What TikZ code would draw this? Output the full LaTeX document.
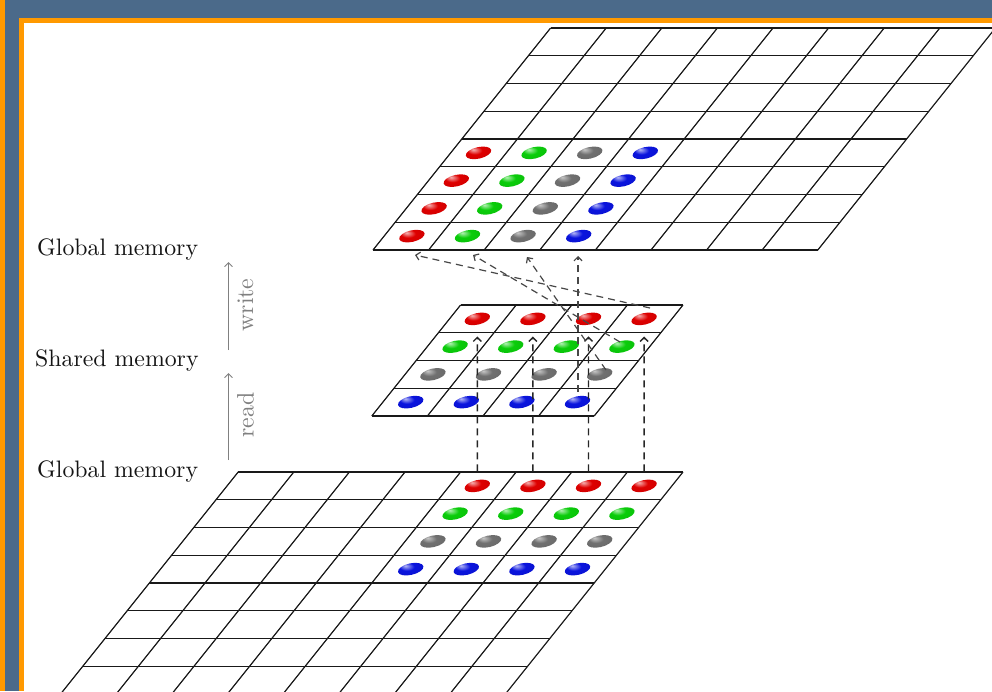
\documentclass[tikz,border=0pt]{standalone}
\usepackage{graphicx}
\usetikzlibrary{arrows.meta,shapes.geometric}

\definecolor{frameblue}{RGB}{75,106,138}
\definecolor{frameorange}{RGB}{255,153,0}
\definecolor{softgray}{RGB}{128,128,128}
\definecolor{dotred}{RGB}{222,0,0}
\definecolor{dotgreen}{RGB}{10,205,10}
\definecolor{dotgray}{RGB}{112,112,112}
\definecolor{dotblue}{RGB}{10,20,222}

% glossy fill of the data elements, highlight towards the upper left
\pgfdeclareradialshading{spotred}{\pgfpoint{-10bp}{12bp}}{color(0bp)=(dotred!30!white); color(14bp)=(dotred); color(36bp)=(dotred!92!black); color(50bp)=(dotred!55!black)}
\pgfdeclareradialshading{spotgreen}{\pgfpoint{-10bp}{12bp}}{color(0bp)=(dotgreen!30!white); color(14bp)=(dotgreen); color(36bp)=(dotgreen!92!black); color(50bp)=(dotgreen!55!black)}
\pgfdeclareradialshading{spotgray}{\pgfpoint{-10bp}{12bp}}{color(0bp)=(dotgray!40!white); color(14bp)=(dotgray); color(36bp)=(dotgray!92!black); color(50bp)=(dotgray!60!black)}
\pgfdeclareradialshading{spotblue}{\pgfpoint{-10bp}{12bp}}{color(0bp)=(dotblue!30!white); color(14bp)=(dotblue); color(36bp)=(dotblue!92!black); color(50bp)=(dotblue!55!black)}

% cell size of the memory grids and their slant
\newcommand\cellw{55.6}
\newcommand\cellh{27.75}

% \memgrid{x of top-left corner}{y of top-left corner}{columns}{rows}
\newcommand\memgrid[4]{%
  \foreach \j in {0,...,#4}{
    \draw[gridline] ({#1-0.8*\j*\cellh},{#2+\j*\cellh}) -- ++({#3*\cellw},0);
  }
  \foreach \i in {0,...,#3}{
    \draw[gridline] ({#1+\i*\cellw},#2) -- ++({-0.8*#4*\cellh},{#4*\cellh});
  }
}

% \memdot{name}{grid x}{grid y}{column}{row}{shading}
\newcommand\memdot[6]{%
  \node[ballspot, shading=#6] (#1)
    at ({#2+(#4-0.5)*\cellw-0.8*(#5-0.5)*\cellh},{#3+(#5-0.5)*\cellh}) {};
}

\begin{document}
\begin{tikzpicture}[x=1pt, y=-1pt,
  gridline/.style={line width=1.2pt, black!90},
  ballspot/.style={ellipse, shade, minimum width=26pt, minimum height=11.5pt,
    inner sep=0pt, rotate=13},
  flow/.style={line width=1.4pt, black!85, dash pattern=on 7pt off 5pt,
    -{Straight Barb[length=4pt,width=8pt]}},
  sidearrow/.style={line width=0.9pt, softgray,
    -{Straight Barb[length=4pt,width=8pt]}},
  lbl/.style={font=\normalsize, text=black!92, inner sep=0pt},
  sidetxt/.style={font=\normalsize, text=softgray, inner sep=0pt}]

\useasboundingbox (0,0) rectangle (992,691);
\fill[white] (0,0) rectangle (992,691);

\begin{scope}
  \clip (24,23) rectangle (992,691);

  % grids: output in global memory, shared tile, input in global memory
  \memgrid{550.6}{28}{8}{8}
  \memgrid{460.6}{305}{4}{4}
  \memgrid{238.2}{472}{8}{8}

  % output grid: colours run along the columns
  \foreach \c/\col in {1/spotred,2/spotgreen,3/spotgray,4/spotblue}{
    \foreach \r in {5,...,8}{
      \memdot{t-\r-\c}{550.6}{28}{\c}{\r}{\col}
    }
  }

  % shared tile and input grid: colours run along the rows
  \foreach \r/\col in {1/spotred,2/spotgreen,3/spotgray,4/spotblue}{
    \foreach \c in {1,...,4}{
      \memdot{m-\r-\c}{460.6}{305}{\c}{\r}{\col}
    }
    \foreach \c in {5,...,8}{
      \memdot{b-\r-\c}{238.2}{472}{\c}{\r}{\col}
    }
  }

  % read: input row into the shared tile
  \foreach \c in {1,...,4}{
    \pgfmathtruncatemacro\cc{\c+4}
    \draw[flow, shorten <=8.5pt, shorten >=11.5pt] (b-1-\cc) -- (m-1-\c);
  }

  % write: a tile column into an output row
  \coordinate (ws1) at (650,308);
  \coordinate (ws2) at (620,342);
  \coordinate (ws3) at (606,370);
  \coordinate (ws4) at (578,392);
  \coordinate (we1) at (415,255);
  \coordinate (we2) at (473,255);
  \coordinate (we3) at (527,257);
  \coordinate (we4) at (578,256);
  \foreach \k in {1,...,4}{
    \draw[flow, black!72, line width=1.2pt] (ws\k) -- (we\k);
  }
\end{scope}

% level labels
\node[lbl, anchor=base west] (gm-out) at (37,255) {\scalebox{2.38}{Global memory}};
\node[lbl, anchor=base west] (sm) at (35,366) {\scalebox{2.38}{Shared memory}};
\node[lbl, anchor=base west] (gm-in) at (37,477) {\scalebox{2.38}{Global memory}};

% read / write arrows between the labels
\coordinate (wr-a) at (228.5,350);
\coordinate (wr-b) at (228.5,262);
\coordinate (rd-a) at (228.5,460);
\coordinate (rd-b) at (228.5,373);
\draw[sidearrow] (wr-a) -- (wr-b);
\draw[sidearrow] (rd-a) -- (rd-b);
\node[sidetxt, rotate=90] (wr-t) at (245.5,305) {\scalebox{2.38}{write}};
\node[sidetxt, rotate=90] (rd-t) at (245.5,415) {\scalebox{2.38}{read}};

% slide frame
\fill[frameorange] (0,0) rectangle (5,691);
\fill[frameblue] (5,0) rectangle (992,18);
\fill[frameblue] (5,0) rectangle (19,691);
\fill[frameorange] (19,18) rectangle (992,23);
\fill[frameorange] (19,18) rectangle (24,691);
\end{tikzpicture}
\end{document}
